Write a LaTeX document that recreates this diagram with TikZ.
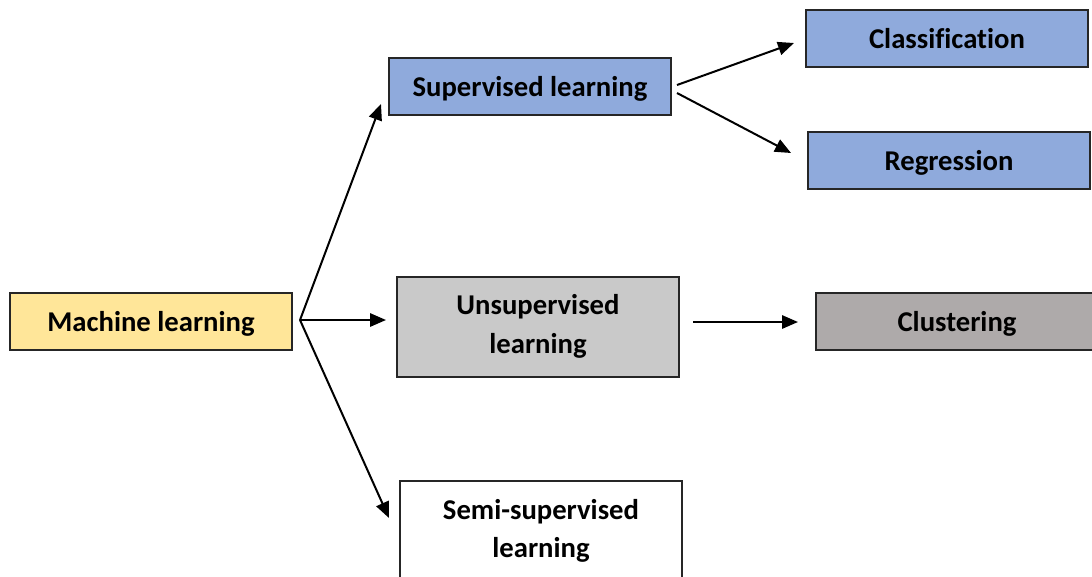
\documentclass[tikz,border=0pt]{standalone}
\usepackage{fontspec}
\setmainfont[Ligatures=CommonOff]{Carlito}
\usetikzlibrary{arrows.meta}
\definecolor{mlyellow}{HTML}{FFE699}
\definecolor{supblue}{HTML}{8FAADC}
\definecolor{unsgrey}{HTML}{C9C9C9}
\definecolor{clugrey}{HTML}{AEAAAA}
\tikzset{
  box/.style={draw=black!85, line width=1.5pt, minimum width=211.5pt,
    minimum height=42.75pt, inner sep=2pt, align=center,
    font=\fontsize{21.5}{29}\selectfont\bfseries},
  onebox/.style={box, text depth=0pt},
  tallbox/.style={box, minimum height=75pt},
  link/.style={line width=1.5pt, -{Triangle[length=12pt,width=10pt]}}
}
\begin{document}
\begin{tikzpicture}[x=0.75pt,y=-0.75pt]
\useasboundingbox (0,0) rectangle (1092,576);
\clip (0,0) rectangle (1092,576);

% boxes
\node[onebox, fill=mlyellow] (ml) at (151,321.5) {Machine learning};
\node[onebox, fill=supblue] (sup) at (530,86.5) {Supervised learning};
\node[onebox, fill=supblue] (cls) at (947,38.5) {Classification};
\node[onebox, fill=supblue] (reg) at (949,160.5) {Regression};
\node[tallbox, fill=unsgrey] (uns) at (538,326.5) {Unsupervised\\learning};
\node[onebox, fill=clugrey] (clu) at (957,321.5) {Clustering};
\node[tallbox, minimum height=75pt, fill=white] (semi) at (541,531) {Semi-supervised\\learning};

% branching points and arrow ends
\coordinate (fork) at (300,320);
\coordinate (toSup) at (381,104);
\coordinate (toUns) at (386,320);
\coordinate (toSemi) at (389,518);
\coordinate (supA) at (677,85);
\coordinate (supB) at (677,93);
\coordinate (toCls) at (794,43);
\coordinate (toReg) at (791,153);
\coordinate (unsOut) at (693,322);
\coordinate (toClu) at (798,322);

% connectors
\draw[link] (fork) -- (toSup);
\draw[link] (fork) -- (toUns);
\draw[link] (fork) -- (toSemi);
\draw[link] (supA) -- (toCls);
\draw[link] (supB) -- (toReg);
\draw[link] (unsOut) -- (toClu);
\end{tikzpicture}
\end{document}
